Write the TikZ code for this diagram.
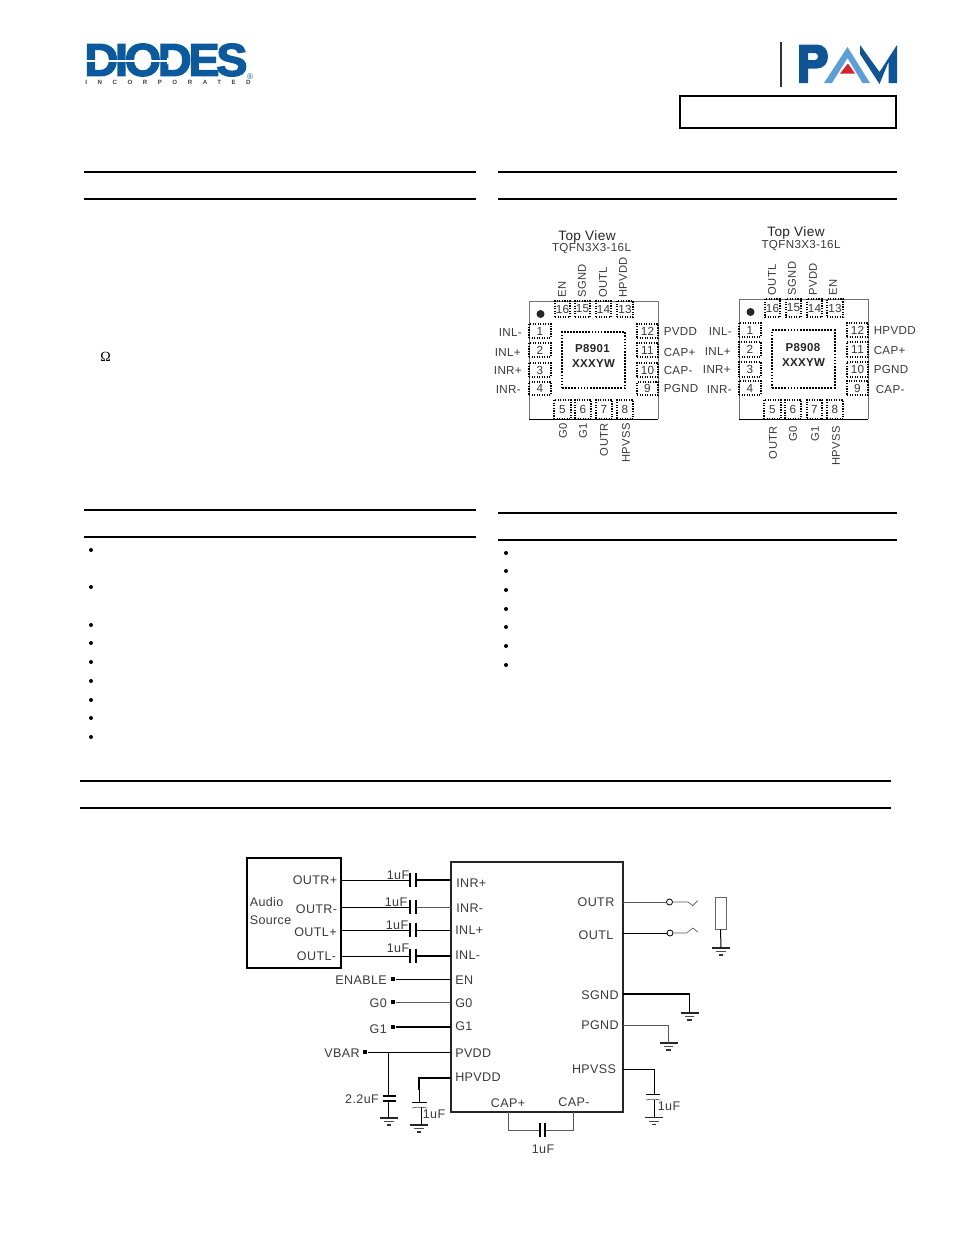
\documentclass[tikz,border=0pt]{standalone}
\usepackage{fontspec}
\setmainfont[LetterSpace=3]{Liberation Sans}
\newfontfamily\logofont[FakeBold=3]{Liberation Sans Bold}
\newfontfamily\incfont[LetterSpace=172]{Liberation Sans Bold}
\newfontfamily\omegafont{Liberation Serif}
\definecolor{txt}{HTML}{3A3A3A}
\definecolor{diodesblue}{HTML}{0B5A9E}
\definecolor{pamdark}{HTML}{0F5596}
\definecolor{pamlight}{HTML}{5A9FD8}
\definecolor{pamred}{HTML}{D8232F}
\usetikzlibrary{calc}
\tikzset{
  x=0.75pt,y=-0.75pt,
  rulew/.style={line width=1.1pt,black},
  lbl/.style={font=\fontsize{8.7}{10}\selectfont,text=txt,inner sep=0pt},
  lblr/.style={lbl,anchor=east},
  lbll/.style={lbl,anchor=west},
  slbl/.style={font=\fontsize{9.4}{11}\selectfont,text=txt,inner sep=0pt},
  slblr/.style={slbl,anchor=east},
  slbll/.style={slbl,anchor=west},
  pinup/.style={lbl,font=\fontsize{8.4}{10}\selectfont,rotate=90,anchor=west},
  pindown/.style={lbl,font=\fontsize{8.4}{10}\selectfont,rotate=90,anchor=east},
  padbox/.style={draw=black,densely dotted,line width=0.9pt,inner sep=0pt,font=\fontsize{8.8}{10}\selectfont,text=txt},
  pkg/.style={draw=black!55,line width=0.45pt},
  epad/.style={draw=black,densely dotted,line width=1.3pt,inner sep=0pt},
  etxt/.style={inner sep=0pt,font=\bfseries\fontsize{8.6}{10}\selectfont,text=black!85},
  wire/.style={line width=0.75pt,black},
  wirethin/.style={line width=0.5pt,black!65},
  wirethick/.style={line width=1.5pt,black},
  plate/.style={line width=0.9pt,black},
  term/.style={fill=black,inner sep=0pt,minimum size=3.6pt},
  bul/.style={circle,fill=black,inner sep=0pt,minimum size=3pt},
  ring/.style={circle,draw=black,line width=0.6pt,fill=white,inner sep=0pt,minimum size=4.5pt},
  icbox/.style={draw=black!85,line width=1.5pt},
}
% pad: x1 y1 x2 y2 number name
\newcommand{\padat}[6]{%
  \pgfmathsetmacro{\pw}{(#3-#1)*0.75}\pgfmathsetmacro{\ph}{(#4-#2)*0.75}%
  \node[padbox,minimum width=\pw pt,minimum height=\ph pt] (#6) at ({(#1+#3)/2},{(#2+#4)/2}) {#5};}
% ground: name x y half-width
\newcommand{\gndat}[4]{%
  \coordinate (#1) at (#2,#3);
  \draw[line width=0.8pt,black!85] (#2-#4,#3) -- (#2+#4,#3);
  \draw[line width=0.5pt,black!70] (#2-#4*0.55,#3+3.5) -- (#2+#4*0.55,#3+3.5);
  \draw[line width=0.9pt,black!80] (#2-#4*0.25,#3+7) -- (#2+#4*0.25,#3+7);}
\begin{document}
\begin{tikzpicture}
\useasboundingbox (0,0) rectangle (954,1235);
\fill[white] (0,0) rectangle (954,1235);

% ---------- Diodes logo
\node[inner sep=0pt,text=diodesblue] (diodes) at (166,60) {\resizebox{163\dimexpr0.75pt\relax}{32\dimexpr0.75pt\relax}{\logofont\addfontfeature{LetterSpace=-7}DIODES}};
\fill[white] (85,60.2) -- (167,60.2) -- (167,57.5) -- (172,61) -- (167,64.5) -- (167,61.8) -- (85,61.8) -- cycle;
\node[inner sep=0pt,text=black!75,font=\incfont\fontsize{4.6}{5}\selectfont] (incorp) at (168,82.5) {INCORPORATED};
\node[inner sep=0pt,text=diodesblue,font=\fontsize{6}{6}\selectfont] (reg) at (250,77) {®};

% ---------- PAM logo
\draw[line width=0.8pt,black!80] (781,42) -- (781,87);
\fill[pamdark,even odd rule] (799,44.5) -- (817,44.5) .. controls (824,44.5) and (828,50) .. (828,56.5) .. controls (828,63) and (824,68.5) .. (817,68.5) -- (808,68.5) -- (808,83) -- (799,83) -- cycle
  (808,53) -- (808,60) -- (815,60) .. controls (819,60) and (819,53) .. (815,53) -- cycle;
\fill[pamlight] (824,83) -- (847.5,47) -- (870,83) -- (862.5,83) -- (847.5,58) -- (832,83) -- cycle;
\fill[pamred] (840,73.5) -- (848,63.5) -- (855,73.5) -- cycle;
\fill[pamdark] (860,45) -- (879.5,72) -- (897,45) -- (897,83) -- (888.5,83) -- (888.5,62) -- (879.5,84) -- (860,54) -- cycle;

% ---------- Revision box
\draw[line width=0.95pt,black] (680,96) rectangle (896,128);

% ---------- Section rules
\foreach \xa/\xb/\ya in {84/476/172,84/476/199,498/897/172,498/897/199,84/476/510,84/476/537,498/897/513,498/897/540,80/891/781,80/891/808}
  \draw[rulew] (\xa,\ya) -- (\xb,\ya);

% ---------- Omega
\node[inner sep=0pt,font=\omegafont\fontsize{10.5}{11}\selectfont] (omega) at (105.5,357) {Ω};

% ---------- Bullets
\foreach \i/\yy in {1/550,2/587,3/625,4/643,5/662,6/681,7/700,8/718,9/737}
  \node[bul] (bl\i) at (91,\yy) {};
\foreach \i/\yy in {1/553,2/571,3/590,4/609,5/627,6/646,7/665}
  \node[bul] (br\i) at (506,\yy) {};

% ---------- Package P8901
\node[lbl,font=\fontsize{10.2}{12}\selectfont,text=black!85] (tva) at (587,236.5) {Top View};
\node[lbl,font=\fontsize{8.7}{10}\selectfont] (tqa) at (591.5,248.5) {TQFN3X3-16L};
\draw[pkg] (529,419) -- (529,301) -- (658,301) -- (658,419);
\draw[line width=0.7pt,black] (529,419) -- (658,419);
\fill[black!85] (540.5,314) circle[radius=4];
\padat{529}{324}{551}{338}{1}{a1}
\padat{529}{343}{551}{357}{2}{a2}
\padat{529}{363}{551}{377}{3}{a3}
\padat{529}{382}{551}{395}{4}{a4}
\padat{554}{400}{571}{419}{5}{a5}
\padat{575}{400}{591}{419}{6}{a6}
\padat{596}{400}{612}{419}{7}{a7}
\padat{617}{400}{633}{419}{8}{a8}
\padat{637}{382}{658}{395}{9}{a9}
\padat{637}{363}{658}{377}{10}{a10}
\padat{637}{343}{658}{357}{11}{a11}
\padat{637}{324}{658}{338}{12}{a12}
\padat{617}{301}{633}{317}{13}{a13}
\padat{596}{301}{611}{317}{14}{a14}
\padat{575}{301}{590}{317}{15}{a15}
\padat{555}{301}{570}{317}{16}{a16}
\node[epad,minimum width=47pt,minimum height=42pt] (ea) at (593.5,360) {};
\node[etxt] (ea1) at (592.5,349) {P8901};
\node[etxt] (ea2) at (593.5,363.5) {XXXYW};
\node[lblr] at (522,333) {INL-};
\node[lblr] at (521,353) {INL+};
\node[lblr] at (522,371) {INR+};
\node[lblr] at (521,390) {INR-};
\node[lbll] at (663.5,332) {PVDD};
\node[lbll] at (663.5,353) {CAP+};
\node[lbll] at (663.5,371) {CAP-};
\node[lbll] at (663.5,388.5) {PGND};
\node[pinup] at (562,298) {EN};
\node[pinup] at (582,298) {SGND};
\node[pinup] at (603,298) {OUTL};
\node[pinup] at (623,298) {HPVDD};
\node[pindown] at (563,423) {G0};
\node[pindown] at (583,423) {G1};
\node[pindown] at (604,423) {OUTR};
\node[pindown] at (626,423) {HPVSS};

% ---------- Package P8908
\node[lbl,font=\fontsize{10.2}{12}\selectfont,text=black!85] (tvb) at (796,233) {Top View};
\node[lbl,font=\fontsize{8.7}{10}\selectfont] (tqb) at (801,246) {TQFN3X3-16L};
\draw[pkg] (739,419) -- (739,299) -- (868,299) -- (868,419);
\draw[line width=0.7pt,black] (739,419) -- (868,419);
\fill[black!85] (750.5,312) circle[radius=4];
\padat{739}{323}{761}{337}{1}{b1}
\padat{739}{342}{761}{357}{2}{b2}
\padat{739}{362}{761}{377}{3}{b3}
\padat{739}{381}{761}{395}{4}{b4}
\padat{764}{400}{781}{419}{5}{b5}
\padat{785}{400}{801}{419}{6}{b6}
\padat{807}{400}{822}{419}{7}{b7}
\padat{827}{400}{843}{419}{8}{b8}
\padat{847}{381}{868}{395}{9}{b9}
\padat{847}{362}{868}{377}{10}{b10}
\padat{847}{342}{868}{357}{11}{b11}
\padat{847}{323}{868}{337}{12}{b12}
\padat{827}{299}{843}{317}{13}{b13}
\padat{807}{299}{822}{317}{14}{b14}
\padat{786}{299}{801}{317}{15}{b15}
\padat{765}{299}{780}{317}{16}{b16}
\node[epad,minimum width=47pt,minimum height=43pt] (eb) at (803.5,359) {};
\node[etxt] (eb1) at (803,348) {P8908};
\node[etxt] (eb2) at (803.5,362.5) {XXXYW};
\node[lblr] at (732,332) {INL-};
\node[lblr] at (731,352) {INL+};
\node[lblr] at (731,370) {INR+};
\node[lblr] at (732,390) {INR-};
\node[lbll] at (873.5,331) {HPVDD};
\node[lbll] at (873.5,351) {CAP+};
\node[lbll] at (873.5,370) {PGND};
\node[lbll] at (875.5,390) {CAP-};
\node[pinup] at (772,295.5) {OUTL};
\node[pinup] at (792,295.5) {SGND};
\node[pinup] at (813,295.5) {PVDD};
\node[pinup] at (833,295.5) {EN};
\node[pindown] at (773,426) {OUTR};
\node[pindown] at (793,426) {G0};
\node[pindown] at (815,426) {G1};
\node[pindown] at (836,426) {HPVSS};

% ---------- Application circuit: blocks
\draw[line width=1.5pt,black] (247,858) rectangle (341,968);
\draw[icbox] (451,862) rectangle (623,1112);
\node[slbll] (audio) at (249.5,902) {Audio};
\node[slbll] (source) at (249.5,920.5) {Source};

% input couplings: y of the wire, label pos, names
\foreach \nm/\yy/\lx/\ly/\out/\outx/\outy/\inp/\inx/\iny/\wa/\wb in {
   p/880/398/875/OUTR+/315/880/INR+/456/883/wire/wirethick,
   q/907/396/902/OUTR-/316.5/909/INR-/456/908/wire/wirethin,
   r/930/397/925.5/OUTL+/315.5/932/INL+/455/930/wire/wire,
   s/956/398/948/OUTL-/316.5/956.5/INL-/455/955/wire/wirethick}{
  \coordinate (\nm src) at (341,\yy);
  \coordinate (\nm pa) at (410,\yy);
  \coordinate (\nm pb) at (416,\yy);
  \coordinate (\nm ic) at (451,\yy);
  \draw[\wa] (\nm src) -- (\nm pa);
  \draw[\wb] (\nm pb) -- (\nm ic);
  \draw[plate] ($(\nm pa)+(0,-7)$) -- ($(\nm pa)+(0,7)$);
  \draw[plate] ($(\nm pb)+(0,-7)$) -- ($(\nm pb)+(0,7)$);
  \node[slbl] at (\lx,\ly) {1uF};
  \node[slbl] at (\outx,\outy) {\out};
  \node[slbll] at (\inx,\iny) {\inp};
}

% logic inputs
\node[slblr] (enl) at (387,980) {ENABLE};
\node[term] (ent) at (393,979) {};
\coordinate (enic) at (451,979);
\draw[wire] (ent) -- (enic);
\node[slbll] at (455,980) {EN};
\node[slblr] (g0l) at (387,1003) {G0};
\node[term] (g0t) at (393,1002) {};
\coordinate (g0ic) at (451,1002);
\draw[wirethin] (g0t) -- (g0ic);
\node[slbll] at (455,1003) {G0};
\node[slblr] (g1l) at (387,1029) {G1};
\node[term] (g1t) at (393,1027) {};
\coordinate (g1ic) at (451,1027);
\draw[wirethick] (g1t) -- (g1ic);
\node[slbll] at (455,1026) {G1};

% VBAR / PVDD
\node[slblr] (vbarl) at (360,1053) {VBAR};
\node[term] (vbart) at (365,1052) {};
\coordinate (pvddic) at (451,1052);
\draw[wire] (vbart) -- (pvddic);
\node[slbll] at (455,1053) {PVDD};
\coordinate (c22top) at (388,1052);
\coordinate (c22a) at (388,1096);
\coordinate (c22b) at (388,1101);
\draw[wire] (c22top) -- (c22a);
\draw[line width=1.1pt] (382.5,1096) -- (396,1096);
\draw[line width=1.1pt] (382.5,1101) -- (396,1101);
\gndat{g22}{389}{1118}{9}
\draw[wire] (c22b) -- (388,1118);
\node[slbl] at (362,1099) {2.2uF};

% HPVDD
\coordinate (hpvddic) at (451,1077.5);
\coordinate (hpa) at (419,1102);
\draw[wirethick] (hpvddic) -| (419,1090);
\draw[wire] (419,1090) -- (hpa);
\draw[wire] (412,1102) -- (427,1102);
\draw[wirethin] (412,1108) .. controls (416,1107) and (423,1107) .. (427,1108);
\gndat{ghp}{419}{1125}{9}
\draw[wire] (421,1107) -- (421,1125);
\node[slbll] at (455,1077) {HPVDD};
\node[slbl] at (434,1114) {1uF};

% flying capacitor
\node[slbl] (capp) at (508,1103) {CAP+};
\node[slbl] (capm) at (574,1102) {CAP-};
\coordinate (cp) at (508,1112);
\coordinate (cm) at (573.5,1112);
\coordinate (fa) at (540,1130);
\coordinate (fb) at (545,1130);
\draw[wirethin] (cp) |- (fa);
\draw[wirethin] (cm) |- (fb);
\draw[plate] (540,1123) -- (540,1137);
\draw[plate] (545,1123) -- (545,1137);
\node[slbl] at (543,1149) {1uF};

% outputs
\node[slbl] (outrl) at (596,902) {OUTR};
\node[slbl] (outll) at (596,935) {OUTL};
\coordinate (outric) at (623,902);
\coordinate (outlic) at (623,933);
\node[ring] (rr) at (669.5,902) {};
\node[ring] (rl) at (670,933) {};
\coordinate (rrj) at (688,902);
\coordinate (rlj) at (686.5,933);
\draw[wirethin] (outric) -- (rr);
\draw[wirethin] (rr) -- (rrj) -- (692.7,905.7) -- (697.7,900.7);
\draw[wire] (outlic) -- (rl);
\draw[wirethin] (rl) -- (rlj) -- (693,928) -- (697.7,932);

% load
\node[draw=black!60,line width=0.7pt,minimum width=8.2pt,minimum height=24pt,inner sep=0pt] (load) at (720.5,913) {};
\gndat{gload}{721}{948}{9}
\draw[wire] (load.south) -- (gload);

% grounds
\node[slbl] (sgndl) at (600,995) {SGND};
\coordinate (sgndic) at (623,994);
\gndat{gs}{689.5}{1013}{9}
\draw[line width=1pt] (sgndic) -| (gs);
\node[slbl] (pgndl) at (600,1025) {PGND};
\coordinate (pgndic) at (623,1025);
\gndat{gp}{668.5}{1043}{9}
\draw[wirethin] (pgndic) -| (gp);

% HPVSS
\node[slbl] (hpvssl) at (594,1069) {HPVSS};
\coordinate (hpvssic) at (623,1069);
\coordinate (hpsa) at (654,1094);
\draw[wire] (hpvssic) -| (hpsa);
\draw[wire] (646,1094) -- (660,1094);
\draw[wirethin] (646,1100) .. controls (650,1099) and (656,1099) .. (660,1100);
\gndat{gh}{654}{1117.5}{9}
\draw[wire] (654,1099.5) -- (gh);
\node[slbl] at (669,1106) {1uF};
\end{tikzpicture}
\end{document}
